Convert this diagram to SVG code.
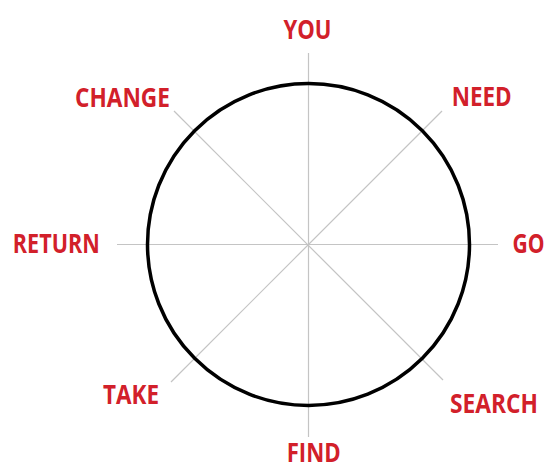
<svg xmlns="http://www.w3.org/2000/svg" width="549" height="466" viewBox="0 0 549 466">
<style>
.lbl{font-family:"Open Sans","Liberation Sans",sans-serif;font-weight:bold;font-size:26px;fill:#d2202a;text-anchor:middle}
.spoke{stroke:#c4c4c4;stroke-width:1.2;fill:none}
</style>
<rect width="549" height="466" fill="#fff"/>
<g id="connectors">
<line class="spoke" x1="308.5" y1="53" x2="308.5" y2="437"/>
<line class="spoke" x1="117" y1="244.5" x2="498" y2="244.5"/>
<line class="spoke" x1="174" y1="111" x2="443" y2="380"/>
<line class="spoke" x1="442" y1="111" x2="171" y2="382"/>
</g>
<g id="circle">
<circle cx="308.5" cy="244.5" r="161" fill="none" stroke="#000" stroke-width="3.5"/>
</g>
<g id="you"><text class="lbl" x="307.5" y="39" textLength="48" lengthAdjust="spacingAndGlyphs">YOU</text></g>
<g id="need"><text class="lbl" x="481.7" y="106" textLength="60" lengthAdjust="spacingAndGlyphs">NEED</text></g>
<g id="go"><text class="lbl" x="528.5" y="253" textLength="32" lengthAdjust="spacingAndGlyphs">GO</text></g>
<g id="search"><text class="lbl" x="494" y="413" textLength="88" lengthAdjust="spacingAndGlyphs">SEARCH</text></g>
<g id="find"><text class="lbl" x="313.7" y="461.5" textLength="54" lengthAdjust="spacingAndGlyphs">FIND</text></g>
<g id="take"><text class="lbl" x="131" y="403.5" textLength="56" lengthAdjust="spacingAndGlyphs">TAKE</text></g>
<g id="return"><text class="lbl" x="56.3" y="253" textLength="87" lengthAdjust="spacingAndGlyphs">RETURN</text></g>
<g id="change"><text class="lbl" x="122.5" y="106.5" textLength="95" lengthAdjust="spacingAndGlyphs">CHANGE</text></g>
</svg>
